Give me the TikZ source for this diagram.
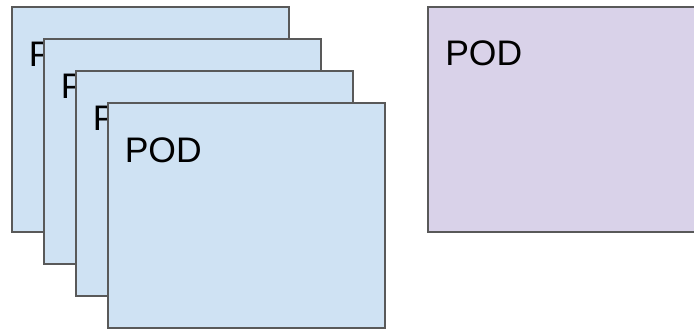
\documentclass[tikz,border=0pt]{standalone}
\usepackage{fontspec}
\setmainfont{Liberation Sans}
\usetikzlibrary{positioning}
\definecolor{podblue}{HTML}{CFE2F3}
\definecolor{podpurple}{HTML}{D9D2E9}
\definecolor{podline}{HTML}{595959}
\begin{document}
\begin{tikzpicture}[x=1pt,y=1pt,semithick]
  \tikzstyle{pod}=[draw=podline,line width=2pt,minimum width=277pt,minimum height=225pt,inner sep=0pt,outer sep=0pt]
  \tikzstyle{podlabel}=[anchor=base west,inner sep=0pt,font=\fontsize{35.5}{40}\selectfont]
  \clip (0,0) rectangle (694,329);

  % stacked pods
  \node[pod,fill=podblue]   (A) at (150,209)                  {};
  \node[podlabel]           (a) at ([shift={(17,-59)}]A.north west) {POD};
  \node[pod,fill=podblue]   (B) at ([shift={(32,-32)}]A.center) {};
  \node[podlabel]           (b) at ([shift={(17,-59)}]B.north west) {POD};
  \node[pod,fill=podblue]   (C) at ([shift={(32,-32)}]B.center) {};
  \node[podlabel]           (c) at ([shift={(17,-59)}]C.north west) {POD};
  \node[pod,fill=podblue]   (D) at ([shift={(32,-32)}]C.center) {};
  \node[podlabel]           (d) at ([shift={(17,-59)}]D.north west) {POD};

  % single pod
  \node[pod,fill=podpurple] (E) at (566.5,209)                {};
  \node[podlabel]           (e) at ([shift={(17,-58)}]E.north west) {POD};
\end{tikzpicture}
\end{document}
